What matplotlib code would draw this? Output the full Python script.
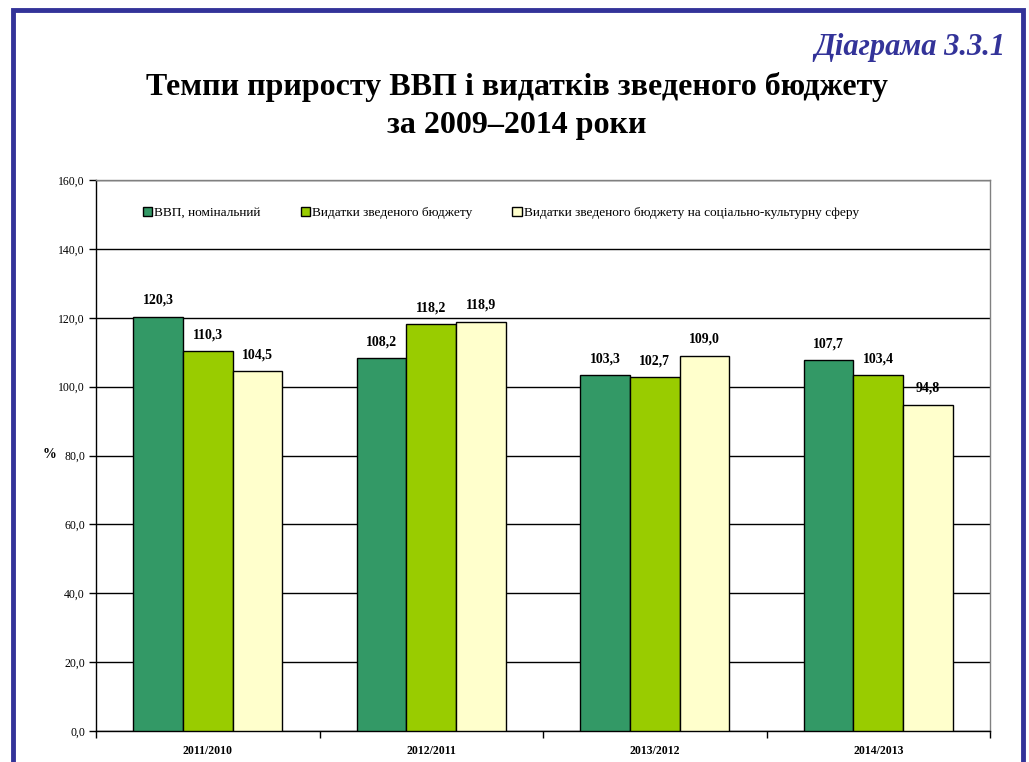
import matplotlib
matplotlib.use("Agg")
import matplotlib.pyplot as plt
from matplotlib.patches import Rectangle
from matplotlib.ticker import FuncFormatter, FixedLocator
import numpy as np

categories = ["2011/2010", "2012/2011", "2013/2012", "2014/2013"]
series_names = ["ВВП, номінальний", "Видатки зведеного бюджету",
                "Видатки зведеного бюджету на соціально-культурну сферу"]
gdp = [120.3, 108.2, 103.3, 107.7]
budget = [110.3, 118.2, 102.7, 103.4]
social = [104.5, 118.9, 109.0, 94.8]
colors = ["#339966", "#99CC00", "#FFFFCC"]

serif = ["Liberation Serif", "DejaVu Serif"]
plt.rcParams['font.family'] = serif

fig = plt.figure(figsize=(10.29, 7.62), dpi=100)
fig.patch.set_facecolor("white")

# Blue frame
fig.patches.append(Rectangle((13/1029, -0.05), (1023-13)/1029, 1.05 - 10/762,
                             transform=fig.transFigure, fill=False,
                             edgecolor="#333399", linewidth=3.5, zorder=10))

fig.text(1005/1029, 1 - 47/762, "Діаграма 3.3.1", ha="right", va="center",
         fontsize=22, fontstyle="italic", fontweight="bold", color="#333399")
fig.text(517/1029, 1 - 87/762, "Темпи приросту ВВП і видатків зведеного бюджету",
         ha="center", va="center", fontsize=23, fontweight="bold")
fig.text(517/1029, 1 - 125/762, "за 2009–2014 роки",
         ha="center", va="center", fontsize=23, fontweight="bold")

ax = fig.add_axes([96/1029, 31/762, (990-96)/1029, (731-180)/762])
x = np.arange(len(categories))
w = 0.2222
data = [gdp, budget, social]
for i, (vals, c, name) in enumerate(zip(data, colors, series_names)):
    bars = ax.bar(x + (i - 1) * w, vals, width=w, color=c, edgecolor="black",
                  linewidth=1, label=name, zorder=3)
    for b, v in zip(bars, vals):
        ax.annotate(f"{v:.1f}".replace(".", ","),
                    (b.get_x() + b.get_width() / 2, v),
                    xytext=(0, 7), textcoords="offset points",
                    ha="center", va="bottom", fontsize=10, fontweight="bold")

ax.set_xlim(-0.5, 3.5)
ax.set_ylim(0, 160)
ax.set_yticks(np.arange(0, 161, 20))
ax.yaxis.set_major_formatter(FuncFormatter(lambda v, p: f"{v:.1f}".replace(".", ",")))
ax.yaxis.grid(True, color="black", linewidth=1, zorder=0)
ax.set_axisbelow(True)
ax.tick_params(axis="y", labelsize=8.5, length=5, width=1, direction="out", pad=3)

ax.set_xticks(x)
ax.set_xticklabels(categories, fontsize=8.5, fontweight="bold")
ax.tick_params(axis="x", which="major", length=0, pad=10)
ax.xaxis.set_minor_locator(FixedLocator(np.arange(-0.5, 4.0, 1.0)))
ax.tick_params(axis="x", which="minor", length=5, width=1, direction="out")

for s in ["left", "bottom"]:
    ax.spines[s].set_color("black")
    ax.spines[s].set_linewidth(1)
for s in ["top", "right"]:
    ax.spines[s].set_color("#808080")
    ax.spines[s].set_linewidth(1)

fig.text(50/1029, 1 - 455/762, "%", ha="center", va="center",
         fontsize=10, fontweight="bold")

leg = ax.legend(loc="center left", bbox_to_anchor=(47/894, (731-213)/551),
                ncol=3, frameon=False, fontsize=9.6, handlelength=0.7,
                handleheight=0.7, handletextpad=0.15, columnspacing=3.0,
                borderpad=0, borderaxespad=0)

fig.savefig("out.png", dpi=100)
